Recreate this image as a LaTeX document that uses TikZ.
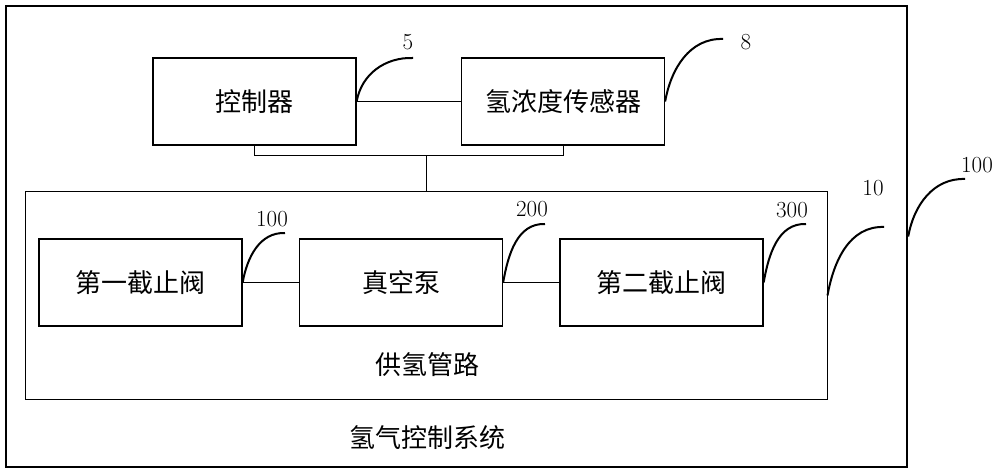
\documentclass[tikz,border=0pt]{standalone}
\usepackage{fontspec}
\newfontfamily\cjk{Noto Sans CJK SC}
\usetikzlibrary{positioning,calc}
\tikzset{
  unit/.style = { draw, thick, line width=1.3pt, minimum width=203pt, minimum height=87pt,
    inner sep=0pt, font=\cjk\fontsize{26}{30}\selectfont },
  pipebox/.style = { draw, line width=1pt, minimum width=802pt, minimum height=207pt, inner sep=0pt },
  sysbox/.style = { draw, line width=2.4pt, minimum width=901pt, minimum height=461pt, inner sep=0pt },
  wire/.style = { line width=1pt },
  lead/.style = { line width=2pt, every to/.style={out=80, in=178} },
  num/.style = { inner sep=0pt, font=\fontsize{23}{25}\selectfont },
  captxt/.style = { inner sep=0pt, font=\cjk\fontsize{26}{30}\selectfont }
}
\begin{document}
\begin{tikzpicture}[x=1pt,y=1pt,node distance=308.5pt,on grid]
  \useasboundingbox (0,0) rectangle (1000,474);
  % system and pipe boxes
  \node[sysbox] (sys) at (456.5,237.5) {};
  \node[pipebox] (pipe) at (426,178.5) {};
  % control part
  \node[unit] (ctrl) at (254.5,372.5) {控制器};
  \node[unit, right=of ctrl] (sens) {氢浓度传感器};
  % pipe part
  \node[unit] (valvea) at (140.5,191.5) {第一截止阀};
  \node[unit, right=260.5pt of valvea] (pump) {真空泵};
  \node[unit, right=260.5pt of pump] (valveb) {第二截止阀};
  \node[captxt] (pipetxt) at (427,109) {供氢管路};
  \node[captxt] (systxt) at (427,36) {氢气控制系统};
  % connections
  \coordinate (bus) at ($(pipe.north)+(0,36)$);
  \draw[wire] (ctrl.east) -- (sens.west);
  \draw[wire] (ctrl.south) |- (bus) -| (sens.south);
  \draw[wire] (bus) -- (pipe.north);
  \draw[wire] (valvea.east) -- (pump.west);
  \draw[wire] (pump.east) -- (valveb.west);
  % reference numbers
  \node[num] (n5) at (408,432) {5};
  \node[num] (n8) at (746,432) {8};
  \node[num] (n100a) at (272,255) {100};
  \node[num] (n200) at (532,265) {200};
  \node[num] (n300) at (792,264) {300};
  \node[num] (n10) at (873,286) {10};
  \node[num] (n100b) at (977,309) {100};
  \coordinate (e5) at (413,416);
  \coordinate (e8) at (723,435);
  \coordinate (e100a) at (285,241);
  \coordinate (e200) at (545,250);
  \coordinate (e300) at (806,250);
  \coordinate (e10) at (884,247);
  \coordinate (e100b) at (965,295);
  \draw[lead] (ctrl.east) to (e5);
  \draw[lead] (sens.east) to (e8);
  \draw[lead] (valvea.east) to (e100a);
  \draw[lead] (pump.east) to (e200);
  \draw[lead] (valveb.east) to (e300);
  \draw[lead] (pipe.east) to (e10);
  \draw[lead] (sys.east) to (e100b);
\end{tikzpicture}
\end{document}
